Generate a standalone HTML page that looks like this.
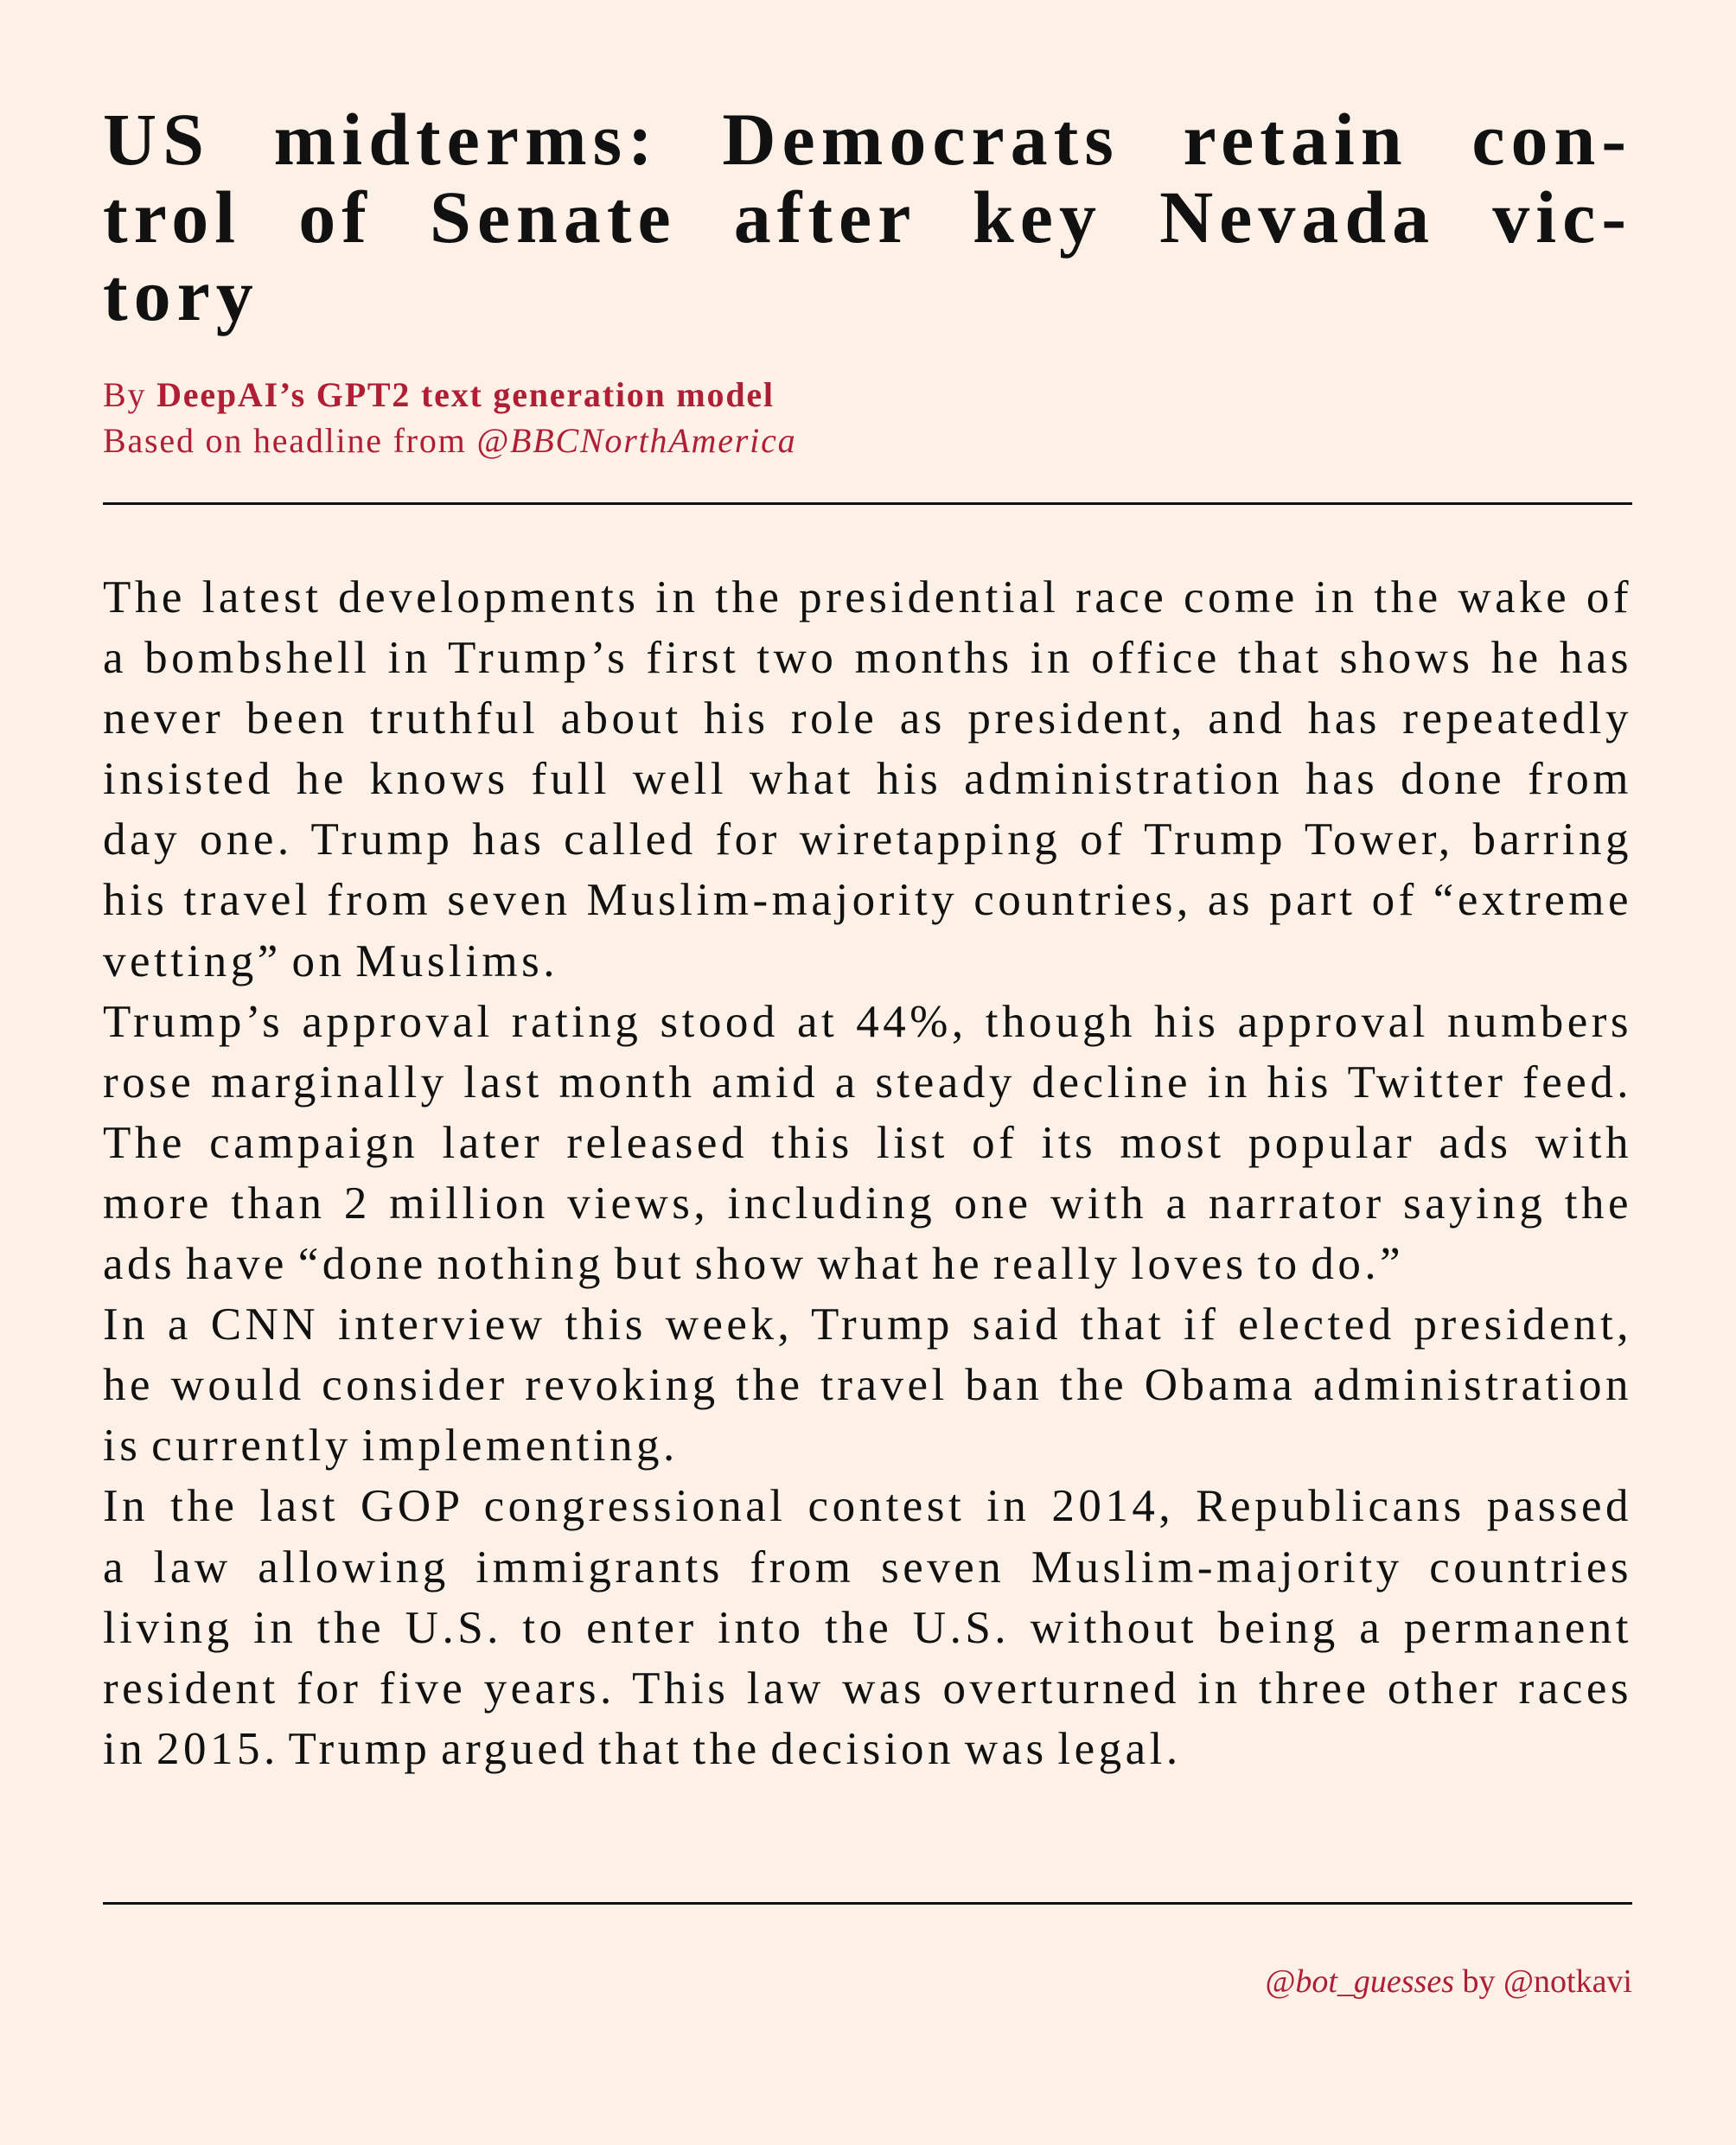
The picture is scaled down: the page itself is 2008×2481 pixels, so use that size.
<!DOCTYPE html>
<html><head><meta charset="utf-8">
<style>
html,body{margin:0;padding:0}
body{width:2008px;height:2481px;background:#fdf0e6;position:relative;overflow:hidden;font-family:"Liberation Serif",serif;color:#111}
.l{display:block;text-align:justify;text-align-last:justify;white-space:nowrap}
.e{text-align-last:left}
#title{position:absolute;left:119px;top:116px;width:1769px;font-size:86px;font-weight:bold;line-height:90px;letter-spacing:7px}
#byline{position:absolute;left:119px;top:430px;font-size:40px;line-height:53px;color:#b01e36;letter-spacing:1.8px}
.rule{position:absolute;left:119px;width:1769px;height:3px;background:#111}
#body{position:absolute;left:119px;top:656px;width:1769px;font-size:53px;line-height:70.1px;letter-spacing:4.5px;word-spacing:-6px}
#footer{position:absolute;right:120px;top:2270px;font-size:38px;color:#b01e36}
</style></head><body>
<div id="title">
<span class="l">US midterms: Democrats retain con-</span>
<span class="l">trol of Senate after key Nevada vic-</span>
<span class="l e">tory</span>
</div>
<div id="byline">
<div>By <b>DeepAI’s GPT2 text generation model</b></div>
<div>Based on headline from <i>@BBCNorthAmerica</i></div>
</div>
<div class="rule" style="top:581px"></div>
<div id="body">
<span class="l">The latest developments in the presidential race come in the wake of</span>
<span class="l">a bombshell in Trump’s first two months in office that shows he has</span>
<span class="l">never been truthful about his role as president, and has repeatedly</span>
<span class="l">insisted he knows full well what his administration has done from</span>
<span class="l">day one. Trump has called for wiretapping of Trump Tower, barring</span>
<span class="l">his travel from seven Muslim-majority countries, as part of “extreme</span>
<span class="l e">vetting” on Muslims.</span>
<span class="l">Trump’s approval rating stood at 44%, though his approval numbers</span>
<span class="l">rose marginally last month amid a steady decline in his Twitter feed.</span>
<span class="l">The campaign later released this list of its most popular ads with</span>
<span class="l">more than 2 million views, including one with a narrator saying the</span>
<span class="l e">ads have “done nothing but show what he really loves to do.”</span>
<span class="l">In a CNN interview this week, Trump said that if elected president,</span>
<span class="l">he would consider revoking the travel ban the Obama administration</span>
<span class="l e">is currently implementing.</span>
<span class="l">In the last GOP congressional contest in 2014, Republicans passed</span>
<span class="l">a law allowing immigrants from seven Muslim-majority countries</span>
<span class="l">living in the U.S. to enter into the U.S. without being a permanent</span>
<span class="l">resident for five years. This law was overturned in three other races</span>
<span class="l e">in 2015. Trump argued that the decision was legal.</span>
</div>
<div class="rule" style="top:2200px"></div>
<div id="footer"><i>@bot_guesses</i> by @notkavi</div>
</body></html>
